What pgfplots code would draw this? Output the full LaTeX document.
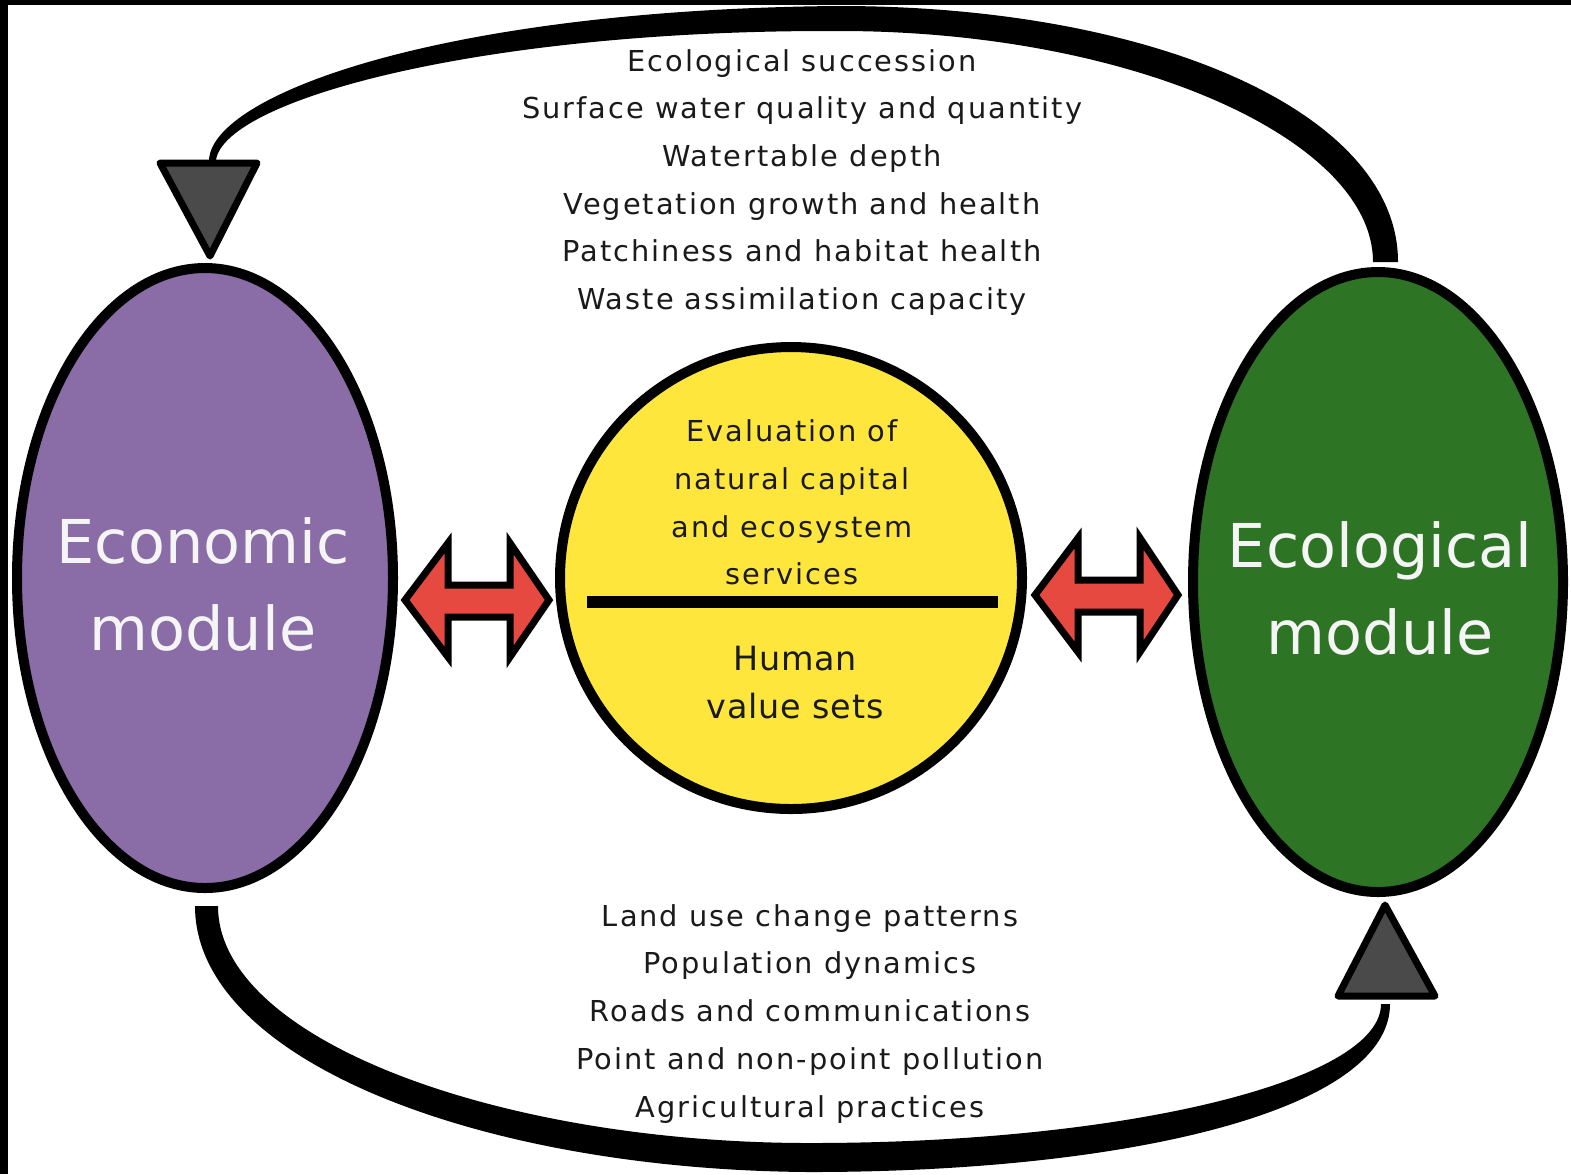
\documentclass[border=0pt]{standalone}
\usepackage{pgfplots}
\pgfplotsset{compat=1.18}
\usepackage{fontspec}
\setmainfont{DejaVu Sans}
\newfontfamily\spaced[LetterSpace=7]{DejaVu Sans}
\newfontfamily\spacedb[LetterSpace=2.5]{DejaVu Sans}
\definecolor{purp}{HTML}{8A6CA6}
\definecolor{grn}{HTML}{2E7425}
\definecolor{yel}{HTML}{FEE63C}
\definecolor{redar}{HTML}{E5493F}
\definecolor{gry}{HTML}{4A4A4A}
\definecolor{txt}{HTML}{1A1A1A}
\begin{document}
\begin{tikzpicture}
\begin{axis}[hide axis, scale only axis, width=157.1mm, height=117.4mm,
  xmin=0, xmax=1571, ymin=0, ymax=1174, y dir=reverse, clip=false]
% background and border
\fill[white] (axis cs:0,0) rectangle (axis cs:1571,1174);
\fill[black] (axis cs:0,0) rectangle (axis cs:1571,5);
\fill[black] (axis cs:0,0) rectangle (axis cs:8,1174);
% top feedback curve (tapered at left)
\fill[black] (axis cs:209,160) .. controls (axis cs:212,95) and (axis cs:440,10) .. (axis cs:835,6)
  .. controls (axis cs:1150,5) and (axis cs:1398,111) .. (axis cs:1398,262)
  -- (axis cs:1373,262) .. controls (axis cs:1373,139) and (axis cs:1130,30) .. (axis cs:835,31)
  .. controls (axis cs:480,30) and (axis cs:225,100) .. (axis cs:216,160) -- cycle;
% bottom feedback curve (tapered at right)
\fill[black] (axis cs:195,906) .. controls (axis cs:195,1060) and (axis cs:480,1170) .. (axis cs:810,1172)
  .. controls (axis cs:1130,1172) and (axis cs:1390,1110) .. (axis cs:1390,1004)
  -- (axis cs:1381,1004) .. controls (axis cs:1381,1080) and (axis cs:1130,1143) .. (axis cs:810,1143)
  .. controls (axis cs:500,1143) and (axis cs:218,1040) .. (axis cs:218,906) -- cycle;
% triangles
\filldraw[fill=gry, draw=black, line width=0.7mm, line join=round]
  (axis cs:160,163) -- (axis cs:257,163) -- (axis cs:210,256) -- cycle;
\filldraw[fill=gry, draw=black, line width=0.7mm, line join=round]
  (axis cs:1338,996) -- (axis cs:1435,996) -- (axis cs:1385,905) -- cycle;
% modules
\filldraw[fill=purp, draw=black, line width=1mm] (axis cs:205,578) ellipse [x radius=18.8mm, y radius=31mm];
\filldraw[fill=grn, draw=black, line width=1mm] (axis cs:1378,582) ellipse [x radius=18.5mm, y radius=31mm];
\filldraw[fill=yel, draw=black, line width=1mm] (axis cs:791,578) circle [radius=23.1mm];
\fill[black] (axis cs:587,596) rectangle (axis cs:998,608);
% double arrows
\filldraw[fill=redar, draw=black, line width=0.7mm, line join=miter]
  (axis cs:405,600) -- (axis cs:448,543) -- (axis cs:448,585) -- (axis cs:510,585) -- (axis cs:510,543)
  -- (axis cs:549,600) -- (axis cs:510,657) -- (axis cs:510,617) -- (axis cs:448,617) -- (axis cs:448,657) -- cycle;
\filldraw[fill=redar, draw=black, line width=0.7mm, line join=miter]
  (axis cs:1035,595) -- (axis cs:1078,538) -- (axis cs:1078,580) -- (axis cs:1140,580) -- (axis cs:1140,538)
  -- (axis cs:1178,595) -- (axis cs:1140,652) -- (axis cs:1140,612) -- (axis cs:1078,612) -- (axis cs:1078,652) -- cycle;
% module labels
\begin{scope}[every node/.style={anchor=base, text=white!96!black, font=\fontsize{17.2}{20}\selectfont}]
\node at (axis cs:203,563) {Economic};
\node at (axis cs:203,650) {module};
\node at (axis cs:1380,567) {Ecological};
\node at (axis cs:1380,654) {module};
\end{scope}
% lists
\begin{scope}[every node/.style={anchor=base, text=txt, font=\spaced\fontsize{8.2}{10}\selectfont}]
\node at (axis cs:802,71) {Ecological succession};
\node at (axis cs:802,118) {Surface water quality and quantity};
\node at (axis cs:802,166) {Watertable depth};
\node at (axis cs:802,214) {Vegetation growth and health};
\node at (axis cs:802,261) {Patchiness and habitat health};
\node at (axis cs:802,309) {Waste assimilation capacity};
\node at (axis cs:810,926) {Land use change patterns};
\node at (axis cs:810,973) {Population dynamics};
\node at (axis cs:810,1021) {Roads and communications};
\node at (axis cs:810,1069) {Point and non-point pollution};
\node at (axis cs:810,1117) {Agricultural practices};
\node at (axis cs:792,441) {Evaluation of};
\node at (axis cs:792,489) {natural capital};
\node at (axis cs:792,537) {and ecosystem};
\node at (axis cs:792,584) {services};
\end{scope}
\begin{scope}[every node/.style={anchor=base, text=txt, font=\spacedb\fontsize{9.5}{11}\selectfont}]
\node at (axis cs:795,670) {Human};
\node at (axis cs:795,718) {value sets};
\end{scope}
\end{axis}
\end{tikzpicture}
\end{document}
